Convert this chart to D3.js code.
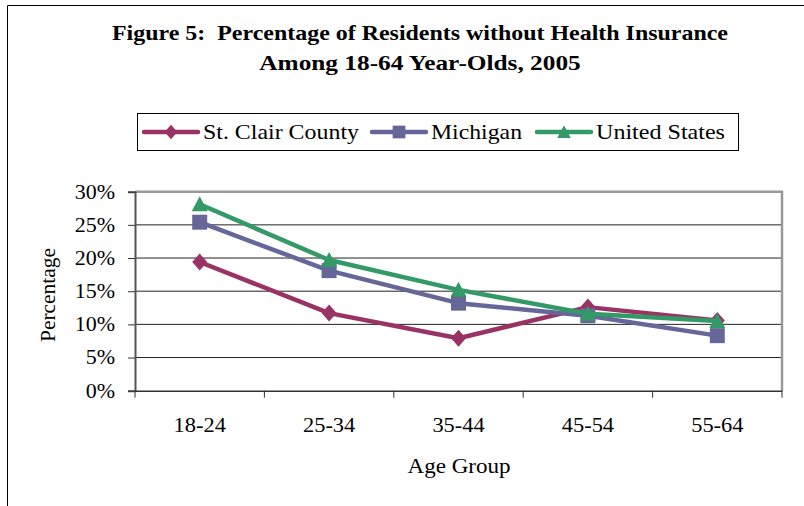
<!DOCTYPE html>
<html><head><meta charset="utf-8">
<script src="https://cdn.jsdelivr.net/npm/d3@7/dist/d3.min.js"></script>
<style>body{margin:0;background:#fff}</style>
</head><body><svg id="c" width="804" height="506"></svg>
<script>
const categories = ["18-24","25-34","35-44","45-54","55-64"];
const stClair = [19.4, 11.7, 7.9, 12.6, 10.6];
const michigan = [25.4, 18.1, 13.2, 11.3, 8.3];
const unitedStates = [28.1, 19.7, 15.2, 11.6, 10.5];
const yTicks = [0,5,10,15,20,25,30];
const seriesNames = ["St. Clair County","Michigan","United States"];
const seriesColors = ["#993366","#666699","#339966"];
const seriesShapes = ["diamond","square","triangle"];

const svg = d3.select("#c");
const font = "'Liberation Serif','Times New Roman',serif";
const L=135, R=782, T=191.7, B=390.7;
const x = d3.scaleBand().domain(categories).range([L,R]);
const y = d3.scaleLinear().domain([0,30]).range([B,T]);

function stretch(sel, target){
  sel.each(function(){
    const w = this.getComputedTextLength();
    const t = typeof target === "number" && target > 5 ? target : w*(target||1.12);
    d3.select(this).attr("textLength",t).attr("lengthAdjust","spacingAndGlyphs");
  });
}

// outer frame
svg.append("path").attr("d","M7.5,506 V5.5 H804").attr("fill","none").attr("stroke","#000").attr("stroke-width",1);

// title
const t1 = svg.append("text").attr("font-family",font).attr("font-weight","bold").attr("font-size",22).attr("text-anchor","middle")
  .attr("x",420).attr("y",40).attr("xml:space","preserve").text("Figure 5:\u00a0 Percentage of Residents without Health Insurance");
stretch(t1, 616);
const t2 = svg.append("text").attr("font-family",font).attr("font-weight","bold").attr("font-size",22).attr("text-anchor","middle")
  .attr("x",420).attr("y",70).text("Among 18-64 Year-Olds, 2005");
stretch(t2, 1.15);

// gridlines
svg.append("g").selectAll("line").data(yTicks.filter(d=>d>0&&d<30)).join("line")
  .attr("x1",L).attr("x2",R).attr("y1",d=>y(d)).attr("y2",d=>y(d)).attr("stroke","#222").attr("stroke-width",1);
// plot border top/right
svg.append("path").attr("d",`M${L},${T} H${R} V${B}`).attr("fill","none").attr("stroke","#999").attr("stroke-width",2.5);

// y axis
const yAxis = d3.axisLeft(y).tickValues(yTicks).tickFormat(d=>d+"%").tickSize(7).tickPadding(13);
const gy = svg.append("g").attr("transform",`translate(${L},0)`).call(yAxis);
gy.select(".domain").attr("stroke","#555").attr("stroke-width",2);
gy.selectAll(".tick line").attr("stroke","#333");
gy.selectAll("text").attr("font-family",font).attr("font-size",20).attr("fill","#000").call(stretch, 1.1);

// x axis
const xAxis = d3.axisBottom(x).tickSize(0).tickPadding(27);
const gx = svg.append("g").attr("transform",`translate(0,${B})`).call(xAxis);
gx.select(".domain").attr("stroke","#333").attr("stroke-width",1.5);
gx.selectAll("text").attr("font-family",font).attr("font-size",20).attr("fill","#000").call(stretch, 1.12);
const bounds = categories.map(c=>x(c)).concat([R]);
gx.selectAll(".bt").data(bounds).join("line").attr("class","bt")
  .attr("x1",d=>d).attr("x2",d=>d).attr("y1",0).attr("y2",7).attr("stroke","#333");

// axis titles
svg.append("text").attr("font-family",font).attr("font-size",21).attr("text-anchor","middle")
  .attr("transform","translate(55,295) rotate(-90)").text("Percentage").call(stretch, 94);
svg.append("text").attr("font-family",font).attr("font-size",21).attr("text-anchor","middle")
  .attr("x",459).attr("y",473).text("Age Group").call(stretch, 103);

const symTypes = {
  diamond: {draw(ctx,size){ctx.moveTo(0,-8.5);ctx.lineTo(7.5,0);ctx.lineTo(0,8.5);ctx.lineTo(-7.5,0);ctx.closePath();}},
  square: d3.symbolSquare,
  triangle: {draw(ctx,size){ctx.moveTo(0,-8);ctx.lineTo(8,7);ctx.lineTo(-8,7);ctx.closePath();}}
};
const symSizes = {diamond:150, square:225, triangle:150};
const allSeries = [stClair, michigan, unitedStates];
const line = d3.line().x((d,i)=>x(categories[i])+x.bandwidth()/2).y(d=>y(d));
allSeries.forEach((vals,si)=>{
  svg.append("path").datum(vals).attr("d",line).attr("fill","none")
    .attr("stroke",seriesColors[si]).attr("stroke-width",4.5).attr("stroke-linejoin","round");
  svg.append("g").selectAll("path").data(vals).join("path")
    .attr("transform",(d,i)=>`translate(${x(categories[i])+x.bandwidth()/2},${y(d)})`)
    .attr("d",d3.symbol().type(symTypes[seriesShapes[si]]).size(symSizes[seriesShapes[si]]))
    .attr("fill",seriesColors[si]);
});

// legend
svg.append("rect").attr("x",137.5).attr("y",113.5).attr("width",601).attr("height",37).attr("fill","#fff").attr("stroke","#000");
const legX = [144, 372, 537];
const legTextW = [156, 91, 129];
seriesNames.forEach((n,i)=>{
  const g = svg.append("g").attr("transform",`translate(${legX[i]},132)`);
  g.append("line").attr("x1",0).attr("x2",54).attr("stroke",seriesColors[i]).attr("stroke-width",4.5).attr("stroke-linecap","round");
  g.append("path").attr("transform","translate(27,0) scale(0.85)")
    .attr("d",d3.symbol().type(symTypes[seriesShapes[i]]).size(symSizes[seriesShapes[i]])).attr("fill",seriesColors[i]);
  g.append("text").attr("x",59).attr("y",7).attr("font-family",font).attr("font-size",21).text(n).call(stretch, legTextW[i]);
});
</script></body></html>
